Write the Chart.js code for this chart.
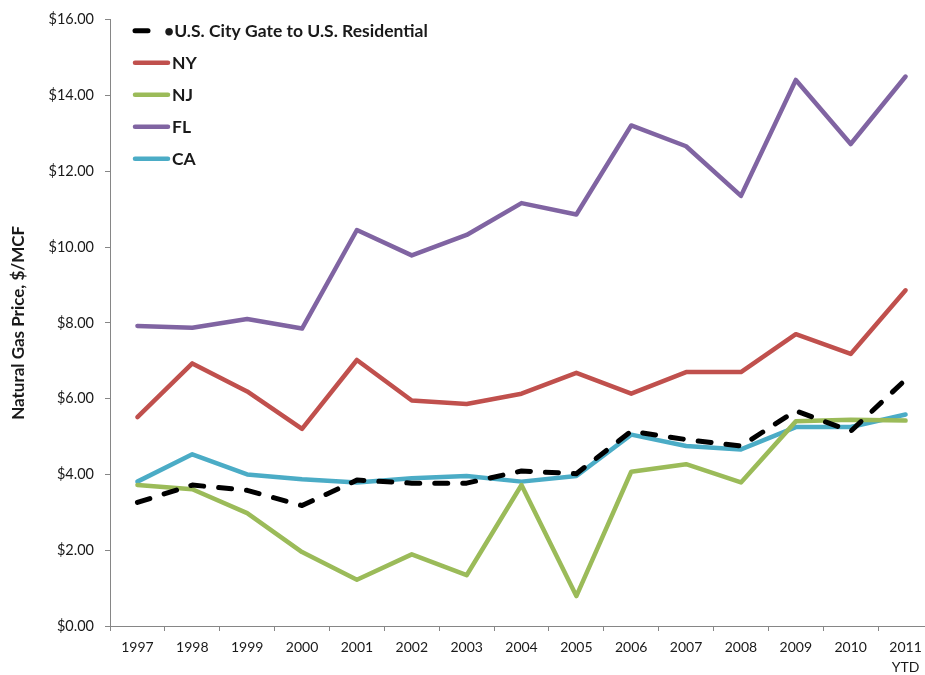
<!DOCTYPE html>
<html>
<head>
<meta charset="utf-8">
<script src="https://cdn.jsdelivr.net/npm/chart.js@4/dist/chart.umd.min.js"></script>
<style>
  html, body { margin: 0; padding: 0; background: #fff; overflow: hidden; }
  #wrap { width: 935px; height: 675px; }
</style>
</head>
<body>
<div id="wrap"><canvas id="gasChart"></canvas></div>
<script>
// Natural gas prices by year, $/MCF
var years = ['1997', '1998', '1999', '2000', '2001', '2002', '2003', '2004',
             '2005', '2006', '2007', '2008', '2009', '2010', ['2011', 'YTD']];
var usCityGate = [3.26, 3.72, 3.58, 3.18, 3.85, 3.77, 3.77, 4.09, 4.02, 5.14, 4.92, 4.75, 5.68, 5.14, 6.50];
var ny = [5.51, 6.93, 6.19, 5.20, 7.02, 5.95, 5.86, 6.13, 6.68, 6.13, 6.70, 6.70, 7.70, 7.18, 8.86];
var nj = [3.72, 3.61, 2.98, 1.95, 1.22, 1.89, 1.34, 3.72, 0.79, 4.07, 4.27, 3.79, 5.40, 5.44, 5.42];
var fl = [7.92, 7.87, 8.10, 7.85, 10.45, 9.78, 10.32, 11.16, 10.86, 13.21, 12.66, 11.35, 14.41, 12.72, 14.50];
var ca = [3.81, 4.53, 4.00, 3.87, 3.79, 3.90, 3.96, 3.81, 3.96, 5.05, 4.75, 4.66, 5.25, 5.25, 5.58];

var seriesNames = ['\u2022U.S. City Gate to U.S. Residential', 'NY', 'NJ', 'FL', 'CA'];
var seriesColors = ['#000000', '#C0504D', '#9BBB59', '#8064A2', '#4BACC6'];

var axisColor = '#868686';
var textColor = '#1a1a1a';

function lineSet(i, values) {
    return {
        label: seriesNames[i],
        data: values,
        borderColor: seriesColors[i],
        backgroundColor: seriesColors[i],
        borderWidth: 4.5,
        pointRadius: 0,
        pointHoverRadius: 0,
        tension: 0,
        borderJoinStyle: 'round',
        borderCapStyle: 'round',
        fill: false
    };
}

var usSet = lineSet(0, usCityGate);
usSet.borderWidth = 5;
usSet.borderDash = [13, 15];

// simple vertical legend inside the plot, top left
var legendBox = {
    id: 'legendBox',
    afterDraw: function(chart) {
        var ctx = chart.ctx;
        var area = chart.chartArea;
        var x0 = area.left + 23;
        var y0 = area.top + 11;
        var step = 32;
        ctx.save();
        ctx.font = 'bold 17.5px Lato, "Open Sans", sans-serif';
        ctx.textBaseline = 'middle';
        ctx.fillStyle = textColor;
        chart.data.datasets.forEach(function(ds, i) {
            var y = y0 + i * step;
            ctx.beginPath();
            ctx.strokeStyle = ds.borderColor;
            ctx.lineCap = 'round';
            if (i === 0) {
                ctx.lineWidth = 5;
                ctx.moveTo(x0 + 2, y);
                ctx.lineTo(x0 + 15, y);
            } else {
                ctx.lineWidth = 4.5;
                ctx.moveTo(x0 + 2, y);
                ctx.lineTo(x0 + 35, y);
            }
            ctx.stroke();
            ctx.fillText(ds.label, i === 0 ? x0 + 31 : x0 + 39, y + 1);
        });
        ctx.restore();
    }
};

var ctx = document.getElementById('gasChart').getContext('2d');
var gasChart = new Chart(ctx, {
    type: 'line',
    data: {
        labels: years,
        datasets: [usSet, lineSet(1, ny), lineSet(2, nj), lineSet(3, fl), lineSet(4, ca)]
    },
    options: {
        responsive: true,
        maintainAspectRatio: false,
        animation: false,
        events: [],
        layout: { padding: { top: 15, right: 2, bottom: 0, left: 0 } },
        plugins: {
            legend: { display: false },
            tooltip: { enabled: false }
        },
        scales: {
            x: {
                offset: true,
                grid: {
                    offset: true,
                    drawOnChartArea: false,
                    drawTicks: true,
                    tickLength: 5,
                    color: axisColor
                },
                border: { color: axisColor, width: 1 },
                ticks: {
                    color: textColor,
                    padding: 6,
                    maxRotation: 0,
                    autoSkip: false,
                    font: { family: 'Lato, "Open Sans", sans-serif', size: 14, lineHeight: 1.45 }
                },
                afterFit: function(scale) { scale.height = 49; }
            },
            y: {
                min: 0,
                max: 16,
                grid: {
                    drawOnChartArea: false,
                    drawTicks: true,
                    tickLength: 5,
                    color: axisColor
                },
                border: { color: axisColor, width: 1 },
                ticks: {
                    stepSize: 2,
                    color: textColor,
                    padding: 11,
                    font: { family: 'Lato, "Open Sans", sans-serif', size: 14.5 },
                    callback: function(v) { return '$' + v.toFixed(2); }
                },
                title: {
                    display: true,
                    text: 'Natural Gas Price, $/MCF',
                    color: textColor,
                    padding: { top: 8, bottom: 0 },
                    font: { family: 'Lato, "Open Sans", sans-serif', size: 17, weight: 'bold' }
                },
                afterFit: function(scale) { scale.width = 110; }
            }
        }
    },
    plugins: [legendBox]
});
</script>
</body>
</html>
